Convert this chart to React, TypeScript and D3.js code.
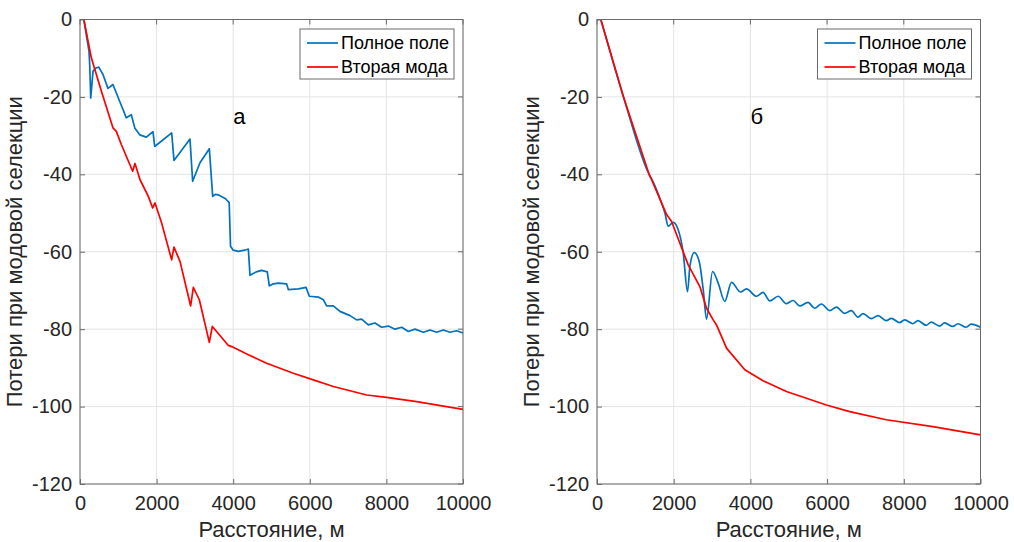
import * as d3 from 'd3'
import React, { useEffect, useRef } from 'react'

// distance, m and loss values
const leftFullX = [100, 235, 255, 280, 340, 400, 490, 600, 730, 860, 1030, 1210, 1340, 1430, 1560, 1730, 1906, 1950, 2394, 2454, 2872, 2941, 3133, 3377, 3464, 3530, 3608, 3800, 3895, 3930, 4000, 4133, 4300, 4395, 4439, 4600, 4743, 4890, 4943, 5050, 5178, 5396, 5440, 5701, 5901, 5988, 6223, 6353, 6440, 6614, 6788, 7050, 7223, 7354, 7528, 7702, 7876, 8050, 8224, 8400, 8572, 8746, 8964, 9138, 9312, 9486, 9660, 9835, 10000]
const leftFullY = [0, -8.2, -12, -20.3, -13.4, -12.6, -12.3, -14.2, -17.8, -16.8, -21, -25.4, -24.6, -28, -29.8, -30.4, -29, -32.8, -29.3, -36.4, -30.9, -41.8, -37, -33.4, -45.7, -45.2, -45.3, -46.3, -47.3, -58.6, -59.6, -59.9, -59.6, -59.3, -66.1, -65.2, -64.8, -65.2, -68.8, -68.3, -68.1, -68.3, -69.8, -69.6, -69.2, -71.5, -71.7, -72.4, -74, -74, -75.4, -76.5, -77.6, -77.4, -78.9, -78.4, -79.5, -79.2, -80, -79.5, -80.6, -80, -80.8, -80.2, -80.8, -80.2, -80.8, -80.4, -81]

const leftModeX = [100, 296, 557, 862, 948, 1079, 1375, 1436, 1567, 1784, 1897, 1958, 2132, 2393, 2454, 2611, 2889, 2959, 3116, 3377, 3455, 3874, 3960, 4395, 4874, 5570, 6092, 6614, 7485, 8007, 8790, 10000]
const leftModeY = [0, -9.9, -18.5, -28, -28.9, -32.3, -39.2, -37.2, -41.4, -45.7, -48.7, -47.4, -52.6, -62.1, -58.8, -62.5, -74, -69.2, -72.4, -83.4, -79.3, -84.2, -84.5, -86.6, -88.8, -91.4, -93.1, -94.8, -97, -97.6, -98.7, -100.7]

const rightFullX = [100, 685, 1362, 1424, 1554, 1650, 1771, 1857, 1987, 2117, 2248, 2361, 2422, 2535, 2665, 2770, 2857, 3013, 3160, 3333, 3507, 3742, 3898, 4158, 4331, 4505, 4722, 4939, 5113, 5286, 5503, 5677, 5851, 6068, 6242, 6458, 6632, 6806, 6936, 7154, 7327, 7544, 7675, 7891, 8021, 8238, 8367, 8585, 8715, 8932, 9062, 9279, 9410, 9627, 9757, 10000]
const rightFullY = [0, -19.8, -40.1, -41.2, -44, -46.5, -50, -53.4, -52.4, -54.3, -60.3, -70.3, -63.8, -60.2, -62.5, -69.8, -77.4, -65.1, -68.1, -72.8, -67.9, -70.4, -69.6, -71.5, -70.5, -72.7, -71.5, -73.4, -72.6, -74, -73.1, -74.6, -73.5, -75.2, -74.3, -75.9, -75.2, -76.9, -76, -77.3, -76.5, -77.8, -77.2, -78.3, -77.6, -78.6, -77.8, -79, -78.2, -79.2, -78.4, -79.3, -78.6, -79.5, -78.7, -79.5]

const rightModeX = [100, 685, 1362, 1424, 1815, 1945, 2378, 2682, 2857, 3029, 3117, 3377, 3854, 4331, 4940, 5982, 6589, 7544, 8758, 10000]
const rightModeY = [0, -19.8, -40.1, -41.4, -50.4, -52.2, -63.4, -69, -74.6, -77.6, -78.9, -84.9, -90.5, -93.3, -96.1, -99.6, -101.3, -103.4, -105.2, -107.3]

const xTicks = [0, 2000, 4000, 6000, 8000, 10000]
const yTicks = [0, -20, -40, -60, -80, -100, -120]
const legendLabels = ['Полное поле', 'Вторая мода']
const panelLetters = ['а', 'б']
const xLabel = 'Расстояние, м'
const yLabel = 'Потери при модовой селекции'

const FONT = '"Liberation Sans", Arial, Helvetica, sans-serif'
const TEXT = '#262626'
const BLUE = '#0072BD'
const RED = '#FF0000'

const App = (): JSX.Element => {
    const ref = useRef<SVGSVGElement>(null)

    useEffect(() => {
        const svg = d3.select(ref.current)
        svg.selectAll('*').remove()

        const panels = [
            { x0: 80, x1: 463, full: [leftFullX, leftFullY], mode: [leftModeX, leftModeY], smooth: false, letter: panelLetters[0] },
            { x0: 597, x1: 980.5, full: [rightFullX, rightFullY], mode: [rightModeX, rightModeY], smooth: true, letter: panelLetters[1] },
        ]
        const top = 19.5
        const bottom = 484

        panels.forEach((p) => {
            const x = d3.scaleLinear().domain([0, 10000]).range([p.x0, p.x1])
            const y = d3.scaleLinear().domain([-120, 0]).range([bottom, top])
            const g = svg.append('g')

            // grid
            g.append('g')
                .selectAll('line.vx')
                .data(xTicks)
                .enter()
                .append('line')
                .attr('x1', (d) => x(d))
                .attr('x2', (d) => x(d))
                .attr('y1', top)
                .attr('y2', bottom)
                .attr('stroke', '#e3e3e3')
                .attr('stroke-width', 1)
            g.append('g')
                .selectAll('line.hy')
                .data(yTicks)
                .enter()
                .append('line')
                .attr('x1', p.x0)
                .attr('x2', p.x1)
                .attr('y1', (d) => y(d))
                .attr('y2', (d) => y(d))
                .attr('stroke', '#e3e3e3')
                .attr('stroke-width', 1)

            // curves
            const toPts = (arr) => arr[0].map((v, i) => [v, arr[1][i]])
            const lineLin = d3
                .line()
                .x((d) => x(d[0]))
                .y((d) => y(d[1]))
            const lineFull = d3
                .line()
                .x((d) => x(d[0]))
                .y((d) => y(d[1]))
                .curve(p.smooth ? d3.curveMonotoneX : d3.curveLinear)

            g.append('path')
                .attr('d', lineFull(toPts(p.full)))
                .attr('fill', 'none')
                .attr('stroke', BLUE)
                .attr('stroke-width', 1.7)
                .attr('stroke-linejoin', 'round')
            g.append('path')
                .attr('d', lineLin(toPts(p.mode)))
                .attr('fill', 'none')
                .attr('stroke', RED)
                .attr('stroke-width', 1.7)
                .attr('stroke-linejoin', 'round')

            // box
            g.append('rect')
                .attr('x', p.x0)
                .attr('y', top)
                .attr('width', p.x1 - p.x0)
                .attr('height', bottom - top)
                .attr('fill', 'none')
                .attr('stroke', '#6b6b6b')
                .attr('stroke-width', 1)

            // axes with inward ticks
            const fmt = (d) => String(d)
            const xAxis = d3.axisBottom(x).tickValues(xTicks).tickFormat(fmt).tickSizeInner(-5).tickSizeOuter(0).tickPadding(12)
            const yAxis = d3.axisLeft(y).tickValues(yTicks).tickFormat(fmt).tickSizeInner(-5).tickSizeOuter(0).tickPadding(8)
            const gx = g.append('g').attr('transform', `translate(0,${bottom})`).call(xAxis)
            const gy = g.append('g').attr('transform', `translate(${p.x0},0)`).call(yAxis)
            ;[gx, gy].forEach((a) => {
                a.select('.domain').remove()
                a.selectAll('line').attr('stroke', '#6b6b6b')
                a.selectAll('text').attr('fill', TEXT).style('font-family', FONT).style('font-size', '20px')
            })
            // top and right ticks
            g.append('g')
                .selectAll('line')
                .data(xTicks)
                .enter()
                .append('line')
                .attr('x1', (d) => x(d))
                .attr('x2', (d) => x(d))
                .attr('y1', top)
                .attr('y2', top + 5)
                .attr('stroke', '#6b6b6b')
            g.append('g')
                .selectAll('line')
                .data(yTicks)
                .enter()
                .append('line')
                .attr('x1', p.x1)
                .attr('x2', p.x1 - 5)
                .attr('y1', (d) => y(d))
                .attr('y2', (d) => y(d))
                .attr('stroke', '#6b6b6b')

            // labels
            g.append('text')
                .attr('x', (p.x0 + p.x1) / 2)
                .attr('y', 537)
                .attr('text-anchor', 'middle')
                .attr('fill', TEXT)
                .style('font-family', FONT)
                .style('font-size', '22px')
                .text(xLabel)
            g.append('text')
                .attr('transform', `translate(${p.x0 - 58},${(top + bottom) / 2}) rotate(-90)`)
                .attr('text-anchor', 'middle')
                .attr('fill', TEXT)
                .style('font-family', FONT)
                .style('font-size', '22px')
                .text(yLabel)

            g.append('text')
                .attr('x', x(4000))
                .attr('y', y(-25))
                .attr('dy', '0.35em')
                .attr('fill', '#000')
                .style('font-family', FONT)
                .style('font-size', '22px')
                .text(p.letter)

            // legend
            const lx = p.x1 - 163
            const lg = g.append('g').attr('transform', `translate(${lx},29)`)
            lg.append('rect')
                .attr('width', 154)
                .attr('height', 50)
                .attr('fill', '#fff')
                .attr('stroke', '#6b6b6b')
                .attr('stroke-width', 1)
            ;[BLUE, RED].forEach((c, i) => {
                const cy = 14 + i * 24
                lg.append('line')
                    .attr('x1', 7)
                    .attr('x2', 38)
                    .attr('y1', cy)
                    .attr('y2', cy)
                    .attr('stroke', c)
                    .attr('stroke-width', 1.7)
                lg.append('text')
                    .attr('x', 41)
                    .attr('y', cy)
                    .attr('dy', '0.35em')
                    .attr('fill', '#000')
                    .style('font-family', FONT)
                    .style('font-size', '18px')
                    .text(legendLabels[i])
            })
        })
    }, [])

    return (
        <svg
            ref={ref}
            width={1014}
            height={542}
            style={{ position: 'absolute', left: 0, top: 0, background: '#fff' }}
        />
    )
}

export default App
